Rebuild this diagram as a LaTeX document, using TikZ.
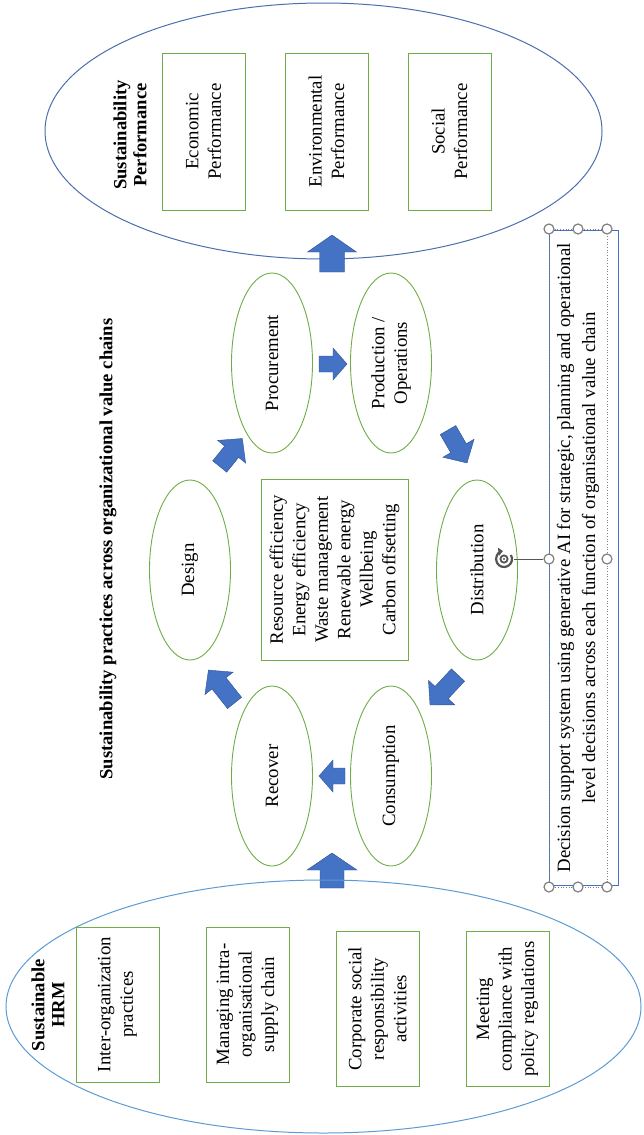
\documentclass[tikz,border=0pt]{standalone}
\usepackage{fontspec}
\setmainfont{Liberation Serif}
\usetikzlibrary{shapes.geometric,arrows.meta}
\definecolor{ogreen}{HTML}{70AD47}
\definecolor{oblue}{HTML}{4472C4}
\definecolor{oblueedge}{HTML}{2F528F}
\definecolor{darkblue}{HTML}{4A6EAE}
\definecolor{lightblue}{HTML}{5B9BD5}
\definecolor{hgray}{HTML}{808080}
\definecolor{igray}{HTML}{555555}
\begin{document}
\begin{tikzpicture}[x=1pt,y=-1pt,
  font=\fontsize{18.8}{22.5}\selectfont,
  cyc/.style={ellipse, draw=ogreen, line width=0.9pt, rotate=90,
    minimum width=180pt, minimum height=81pt, inner sep=0pt, align=center},
  gbox/.style={rectangle, draw=ogreen, line width=0.9pt, rotate=90,
    inner sep=0pt, align=center},
  hrmbox/.style={gbox, minimum width=155pt, minimum height=83pt},
  perfbox/.style={gbox, minimum width=157pt, minimum height=83pt},
  ttl/.style={rotate=90, font=\fontsize{18.6}{20}\selectfont\bfseries,
    align=center, inner sep=0pt},
  handle/.style={circle, draw=hgray, fill=white, line width=1.2pt,
    minimum size=10pt, inner sep=0pt},
  pics/barrow/.style n args={4}{code={
    \filldraw[fill=oblue, draw=oblueedge, line width=0.4pt]
      ({-#1/2},{-#2/2}) -- ({#1/2-#4},{-#2/2}) -- ({#1/2-#4},{-#3/2})
      -- ({#1/2},0) -- ({#1/2-#4},{#3/2}) -- ({#1/2-#4},{#2/2})
      -- ({-#1/2},{#2/2}) -- cycle;}}
]
\useasboundingbox (0,0) rectangle (643,1135);

% ---------- Sustainability performance ----------
\node[ellipse, draw=darkblue, line width=1pt, minimum width=557pt,
  minimum height=256pt, inner sep=0pt] (sp) at (323.5,131) {};
\node[ttl] (sptitle) at (130,135) {Sustainability\\Performance};
\node[perfbox] (eco) at (203.5,131.5) {Economic\\Performance};
\node[perfbox] (env) at (326.5,131.5) {Environmental\\Performance};
\node[perfbox] (soc) at (449.5,131.5) {Social\\Performance};

% ---------- title ----------
\node[ttl] (title) at (108,549)
  {Sustainability practices across organizational value chains};

% ---------- value chain cycle ----------
\node[cyc] (proc) at (272,363) {Procurement};
\node[cyc] (prod) at (391,363) {Production /\\Operations};
\node[cyc] (des)  at (190,570) {Design};
\node[cyc] (dist) at (477,570) {Distribution};
\node[cyc] (rec)  at (272,776) {Recover};
\node[cyc] (cons) at (391,776) {Consumption};
\node[gbox, minimum width=181pt, minimum height=147pt] (prac) at (334.5,569.5)
  {Resource efficiency\\Energy efficiency\\Waste management\\Renewable energy\\Wellbeing\\Carbon offsetting};

% ---------- block arrows ----------
\pic[rotate=90]    at (332,253.5)   {barrow={37}{25}{49}{17}};
\pic[rotate=90]    at (332,870.5)   {barrow={35}{24}{50}{17}};
\pic[rotate=0]     at (333,364)     {barrow={28}{16}{32}{14}};
\pic[rotate=180]   at (332,776)     {barrow={26}{16}{32}{14}};
\pic[rotate=51]    at (231,452.5)   {barrow={36}{18}{36}{17}};
\pic[rotate=-60]   at (457.5,446.5) {barrow={38}{18}{36}{17}};
\pic[rotate=-133]  at (444,690)     {barrow={41}{18}{36}{17}};
\pic[rotate=128.5] at (221.5,686.5) {barrow={42}{18}{36}{17}};

% ---------- Sustainable HRM ----------
\node[ellipse, draw=lightblue, line width=1pt, minimum width=635pt,
  minimum height=253pt, inner sep=0pt] (hrm) at (323.5,1006.5) {};
\node[ttl] (hrmtitle) at (48,1005) {Sustainable\\HRM};
\node[hrmbox] (inter) at (117.5,1004.5) {Inter-organization\\practices};
\node[hrmbox] (intra) at (247.5,1004.5) {Managing intra-\\organisational\\supply chain};
\node[hrmbox] (csr)   at (377.5,1009)   {Corporate social\\responsibility\\activities};
\node[hrmbox] (comp)  at (507.5,1009)   {Meeting\\compliance with\\policy regulations};

% ---------- decision support text box ----------
\draw[oblue, line width=0.8pt] (549,230) rectangle (618,885);
\node[rotate=90, draw=hgray, dotted, line width=0.7pt, minimum width=658pt,
  minimum height=58pt, inner sep=0pt, align=center,
  font=\fontsize{18.8}{25}\selectfont] (dss) at (578,558)
  {Decision support system using generative AI for strategic, planning and operational\\level decisions across each function of organisational value chain};

% selection handles
\node[handle] (h1) at (549,229) {};
\node[handle] (h2) at (578,229) {};
\node[handle] (h3) at (607,229) {};
\node[handle] (h4) at (549,559) {};
\node[handle] (h5) at (607,559) {};
\node[handle] (h6) at (549,887) {};
\node[handle] (h7) at (578,887) {};
\node[handle] (h8) at (607,887) {};

% rotation handle
\node[circle, minimum size=19pt, inner sep=0pt] (roticon) at (504,559) {};
\begin{scope}[shift={(504,559)}, y=1pt]
  \draw[igray, line width=2.2pt, -{Triangle[length=4.5pt,width=8pt]}]
    (30:8) arc[start angle=30, end angle=-262, radius=8];
  \draw[igray, line width=1.8pt] (0,0) circle[radius=3.6];
  \fill[igray] (0,0) circle[radius=1.2];
\end{scope}
\draw[igray, line width=0.9pt] (roticon.east) -- (h4.west);
\end{tikzpicture}
\end{document}
